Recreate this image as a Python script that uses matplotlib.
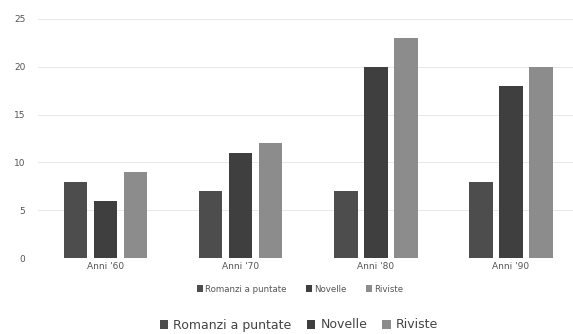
import matplotlib
matplotlib.use("Agg")
import matplotlib.pyplot as plt
from matplotlib.patches import Patch
import numpy as np

categories = ["Anni '60", "Anni '70", "Anni '80", "Anni '90"]
series_names = ["Romanzi a puntate", "Novelle", "Riviste"]
romanzi = [8, 7, 7, 8]
novelle = [6, 11, 20, 18]
riviste = [9, 12, 23, 20]
y_ticks = [0, 5, 10, 15, 20, 25]
colors = ["#4d4d4d", "#3f3f3f", "#8c8c8c"]

fig = plt.figure(figsize=(5.73, 3.34), dpi=100)
ax = fig.add_axes([38 / 573, (334 - 258) / 334, (573 - 38) / 573, (258 - 19) / 334])

x = np.arange(len(categories))
w = 0.175
off = 0.222
for i, (vals, c) in enumerate(zip([romanzi, novelle, riviste], colors)):
    ax.bar(x + (i - 1) * off, vals, w, color=c, zorder=2)

ax.set_xlim(-0.5, 3.46)
ax.set_ylim(0, 25)
ax.set_yticks(y_ticks)
ax.set_yticklabels([str(t) for t in y_ticks], fontsize=6.5, color="#555555")
ax.set_xticks(x)
ax.set_xticklabels(categories, fontsize=6.5, color="#555555")
ax.tick_params(axis="y", length=0, pad=9)
ax.tick_params(axis="x", length=0, pad=3)
for s in ax.spines.values():
    s.set_visible(False)
ax.yaxis.grid(True, color="#e8e8e8", lw=0.7, zorder=0)
ax.set_axisbelow(True)

handles = [Patch(facecolor=c, label=n) for c, n in zip(colors, series_names)]
fig.legend(handles=handles, loc="center", bbox_to_anchor=(300 / 573, 1 - 289 / 334),
           ncol=3, frameon=False, fontsize=6.2, handlelength=0.7, handleheight=0.7,
           handletextpad=0.3, columnspacing=2.2, labelcolor="#555555")
fig.legend(handles=handles, loc="center", bbox_to_anchor=(299 / 573, 1 - 325 / 334),
           ncol=3, frameon=False, fontsize=9, handlelength=0.7, handleheight=0.7,
           handletextpad=0.4, columnspacing=1.2, labelcolor="#444444")

fig.savefig("out.png", dpi=100)
